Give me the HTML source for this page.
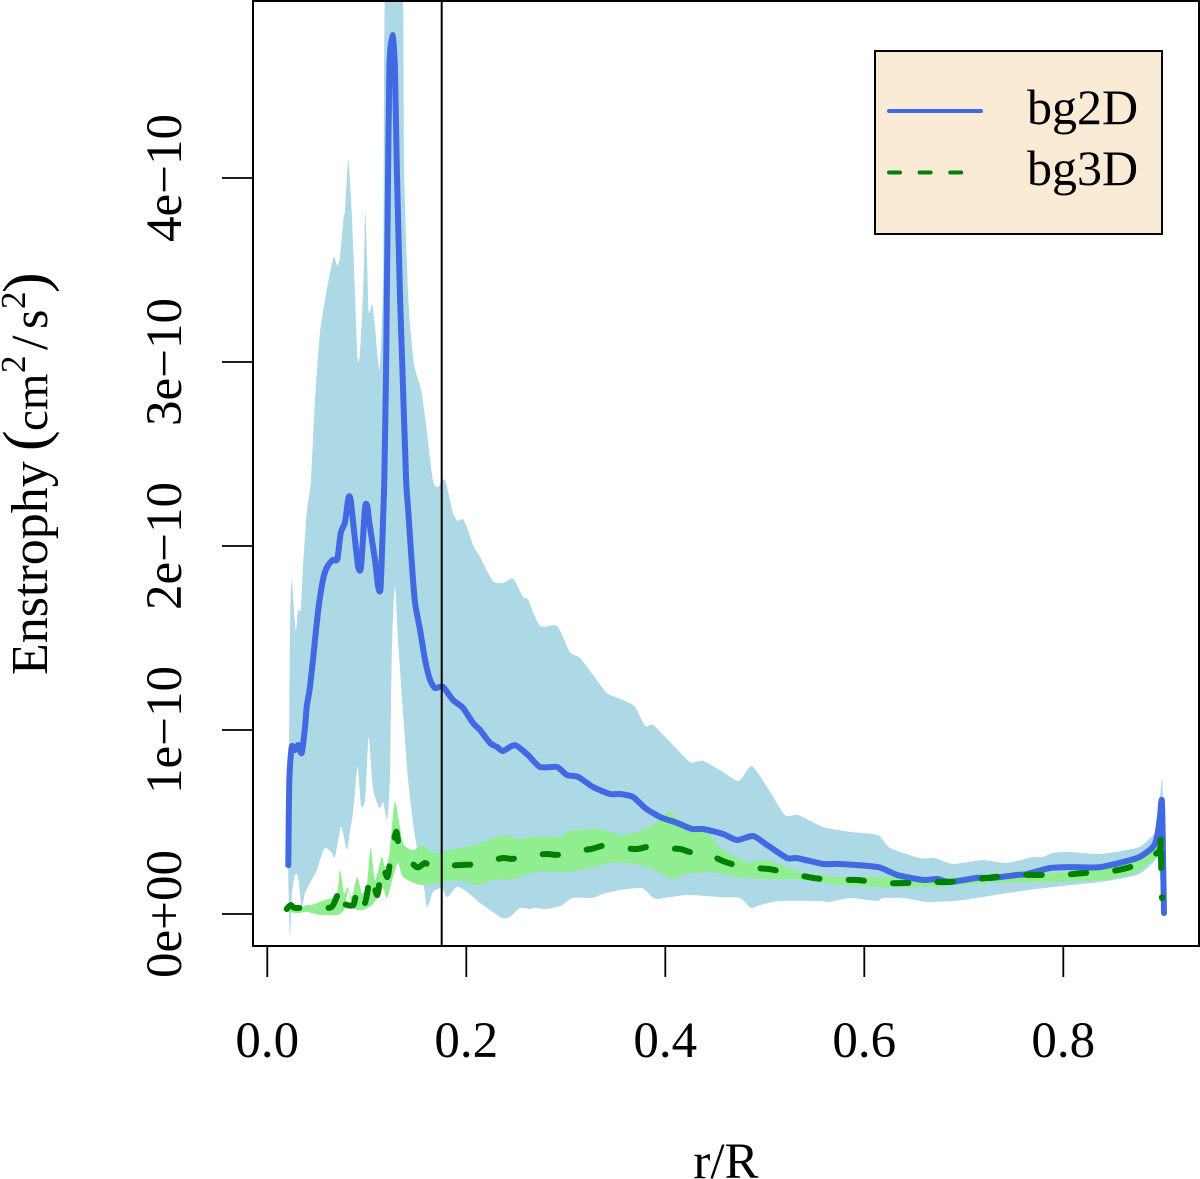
<!DOCTYPE html>
<html>
<head>
<meta charset="utf-8">
<title>Enstrophy profile</title>
<style>
html,body{margin:0;padding:0;background:#fff;}
svg{display:block;}
text{font-family:"Liberation Serif",serif;fill:#000;}
</style>
</head>
<body>
<svg id="chart" xmlns="http://www.w3.org/2000/svg" width="1200" height="1179" viewBox="0 0 1200 1179">
<defs><clipPath id="plot-clip"><rect x="253" y="1" width="946" height="945"/></clipPath></defs>
<g id="marks" clip-path="url(#plot-clip)"></g>
<line x1="441.7" y1="1" x2="441.7" y2="946" stroke="#000" stroke-width="2"/>
<rect x="253" y="1" width="946" height="945" fill="none" stroke="#000" stroke-width="2"/>
<g id="axes"></g>
<g>
<text transform="translate(47,675) rotate(-90)" font-size="52">Enstrophy</text>
<text transform="translate(46,451) rotate(-90)" font-size="62">(</text>
<text transform="translate(47,431) rotate(-90)" font-size="47">cm</text>
<text transform="translate(25,373) rotate(-90)" font-size="35">2</text>
<text transform="translate(47,350) rotate(-90)" font-size="52">/</text>
<text transform="translate(47,329) rotate(-90)" font-size="50">s</text>
<text transform="translate(25,309) rotate(-90)" font-size="35">2</text>
<text transform="translate(46,293) rotate(-90)" font-size="62">)</text>
</g>
<text x="726" y="1178" font-size="51" text-anchor="middle">r/R</text>
<g>
<rect x="875" y="51" width="287" height="183" fill="#FAEBD7" stroke="#000" stroke-width="2"/>
<line x1="889" y1="111" x2="981" y2="111" stroke="#4169E1" stroke-width="4" stroke-linecap="round"/>
<line x1="889" y1="172.5" x2="963" y2="172.5" stroke="#008000" stroke-width="4" stroke-linecap="round" stroke-dasharray="11 19.6"/>
<text x="1027" y="124" font-size="50">bg2D</text>
<text x="1027" y="185" font-size="50">bg3D</text>
</g>
</svg>
<script>
// All y values are in units of 1e-10 cm^2/s^2
const xTickValues = [0, 0.2, 0.4, 0.6, 0.8];
const xTickLabels = ["0.0", "0.2", "0.4", "0.6", "0.8"];
const yTickValues = [0, 1, 2, 3, 4];
const yTickLabels = ["0e+00", "1e\u221210", "2e\u221210", "3e\u221210", "4e\u221210"];

const bg2dR = [.0211,.0221,.0245,.0278,.0312,.0346,.0379,.0396,.0429,.0462,.0497,.0530,.0570,.0613,.0658,.0704,.0738,.0781,.0815,.0838,.0881,.0914,.0942,.0982,.1005,.1026,.1082,.1115,.1139,.1166,.1176,.1194,.1211,.1227,.1258,.1282,.1302,.1335,.1368,.1395,.1418,.1452,.1485,.1536,.1586,.1636,.1686,.1766,.1866,.1967,.2067,.2138,.2239,.2309,.2369,.2490,.2620,.2741,.2912,.3012,.3123,.3274,.3445,.3546,.3676,.3797,.3948,.4119,.4270,.4379,.4580,.4721,.4882,.5023,.5224,.5325,.5586,.5757,.6137,.6330,.6590,.6731,.6862,.7133,.7294,.7535,.7635,.7867,.8097,.8369,.8741,.8901,.8941,.8971,.8991,.9005,.9012];
const bg2dMean = [.266,.728,.908,.891,.918,.875,1.016,1.125,1.234,1.397,1.582,1.723,1.842,1.897,1.924,1.929,2.071,2.130,2.261,2.250,2.033,1.886,1.886,2.207,2.217,2.125,1.924,1.777,1.777,2.179,2.359,2.973,3.880,4.603,4.777,4.603,4.060,3.337,2.794,2.359,2.179,1.908,1.690,1.543,1.380,1.272,1.228,1.234,1.163,1.120,1.038,1.000,.929,.908,.886,.918,.864,.799,.799,.755,.745,.690,.652,.652,.636,.576,.527,.495,.462,.462,.435,.402,.424,.375,.304,.304,.272,.272,.255,.212,.185,.190,.174,.196,.196,.212,.217,.250,.255,.255,.304,.364,.418,.527,.614,.223,.005];

const bg3dR = [.0195,.0235,.0278,.0462,.0647,.0741,.0764,.0865,.0910,.0982,.1040,.1106,.1151,.1207,.1242,.1295,.1335,.1501,.1585,.1665,.1917,.2118,.2359,.2460,.2570,.2801,.2912,.3012,.3254,.3364,.3465,.3706,.3816,.3917,.4148,.4248,.4359,.4580,.4781,.5032,.5233,.5484,.5685,.5937,.6137,.6389,.6610,.6841,.7062,.7313,.7515,.7766,.7977,.8218,.8439,.8670,.8871,.8971,.8979,.8985,.8992];
const bg3dMean = [.027,.049,.033,.038,.038,.147,.060,.049,.147,.060,.212,.103,.266,.201,.310,.446,.348,.255,.277,.255,.266,.272,.304,.299,.315,.326,.321,.337,.353,.370,.364,.353,.364,.359,.353,.337,.342,.288,.255,.245,.223,.196,.185,.185,.168,.168,.174,.174,.185,.201,.212,.212,.212,.223,.228,.255,.310,.348,.446,.201,.087];

const bg2dUpperR = [.0211,.0228,.0245,.0285,.0309,.0336,.0359,.0396,.0439,.0479,.0530,.0580,.0630,.0670,.0704,.0731,.0764,.0781,.0814,.0848,.0881,.0908,.0932,.0965,.0985,.1005,.1019,.1055,.1082,.1115,.1133,.1166,.1190,.1354,.1375,.1418,.1468,.1502,.1546,.1586,.1664,.1717,.1786,.1866,.1917,.1967,.2017,.2067,.2138,.2268,.2369,.2470,.2570,.2620,.2741,.2912,.3042,.3143,.3274,.3414,.3575,.3696,.3797,.3877,.4048,.4249,.4379,.4580,.4721,.4771,.4872,.5023,.5203,.5334,.5586,.5857,.6137,.6258,.6560,.6710,.6891,.7193,.7435,.7696,.7796,.7897,.8068,.8369,.8741,.8851,.8941,.8991,.9002,.9022];
const bg2dUpper = [.185,1.543,1.815,1.543,1.652,1.652,1.886,2.179,2.359,2.794,3.158,3.337,3.484,3.571,3.522,3.571,3.772,3.826,4.098,3.826,3.375,3.016,3.049,3.408,3.815,3.516,3.266,3.315,3.190,2.995,2.984,3.516,5.200,5.200,4.060,3.337,3.011,2.929,2.848,2.701,2.359,2.321,2.359,2.179,2.136,2.147,2.087,2.005,1.940,1.810,1.799,1.821,1.723,1.707,1.565,1.565,1.424,1.391,1.299,1.201,1.163,1.125,1.022,1.027,.935,.826,.832,.772,.723,.739,.804,.690,.538,.538,.473,.446,.429,.359,.304,.304,.272,.293,.277,.310,.310,.332,.337,.326,.359,.402,.467,.739,.582,.038];
const bg2dLowerR = [.0211,.0228,.0248,.0278,.0309,.0346,.0379,.0429,.0499,.0530,.0580,.0647,.0680,.0738,.0761,.0802,.0832,.0861,.0908,.0942,.0982,.1019,.1052,.1082,.1133,.1163,.1203,.1222,.1235,.1253,.1283,.1314,.1365,.1415,.1485,.1566,.1606,.1665,.1756,.1806,.1907,.2007,.2138,.2239,.2359,.2440,.2540,.2641,.2691,.2791,.2942,.3072,.3264,.3374,.3545,.3765,.3846,.3917,.4218,.4550,.4750,.4861,.4951,.5153,.5555,.5655,.5857,.6128,.6188,.6389,.6640,.6992,.7435,.7897,.8369,.8741,.8901,.8951,.9012,.9022];
const bg2dLower = [.185,-.125,.114,.212,.201,.038,.114,.168,.239,.293,.359,.332,.310,.473,.440,.348,.457,.549,.799,.592,.620,.962,.728,.636,.576,.609,.511,.620,.783,1.451,1.783,1.489,1.092,.728,.418,.185,.038,.120,.141,.092,.147,.120,.060,.022,-.022,-.016,.033,.027,.033,.027,.043,.087,.087,.109,.130,.141,.103,.082,.103,.092,.087,.033,.049,.071,.071,.065,.087,.071,.087,.087,.065,.076,.114,.147,.174,.212,.277,.293,.005,.038];

const bg3dUpperR = [.0195,.0278,.0329,.0396,.0446,.0580,.0697,.0731,.0771,.0808,.0848,.0905,.0949,.0999,.1039,.1082,.1150,.1183,.1226,.1283,.1365,.1465,.1566,.1665,.1836,.2067,.2138,.2389,.2520,.2761,.2942,.3042,.3344,.3565,.3776,.3917,.4028,.4148,.4420,.4550,.4821,.5023,.5354,.5757,.6228,.6731,.7233,.7565,.7897,.8399,.8701,.8901,.8971];
const bg3dUpper = [.049,.049,.033,.049,.049,.076,.103,.239,.114,.147,.092,.201,.114,.147,.359,.185,.310,.255,.321,.609,.386,.348,.375,.332,.348,.375,.386,.429,.408,.424,.418,.451,.462,.429,.457,.500,.554,.511,.446,.359,.283,.293,.228,.201,.201,.196,.207,.234,.223,.250,.304,.364,.457];
const bg3dLowerR = [.0198,.0309,.0399,.0530,.0711,.0781,.0811,.0861,.0962,.1052,.1113,.1163,.1203,.1263,.1314,.1365,.1536,.1756,.1937,.2108,.2309,.2440,.2711,.3042,.3274,.3545,.3846,.4068,.4178,.4420,.4751,.4982,.5324,.5757,.6128,.6660,.7233,.7897,.8399,.8741,.8941,.8981];
const bg3dLower = [.011,.005,.011,-.005,-.005,.033,.130,.033,.022,.049,.092,.141,.087,.201,.277,.201,.158,.174,.185,.158,.190,.185,.228,.228,.255,.283,.250,.190,.212,.228,.201,.190,.190,.158,.147,.147,.168,.174,.185,.228,.304,.223];

const SVG_NS = "http://www.w3.org/2000/svg";
function xScale(r) { return 267.3 + 995 * r; }
function yScale(v) { return 914 - 184 * v; }
function svgEl(tag, attrs) {
  const el = document.createElementNS(SVG_NS, tag);
  for (const k in attrs) el.setAttribute(k, attrs[k]);
  return el;
}
function toPixels(rs, vs) {
  return rs.map((r, i) => [xScale(r), yScale(vs[i])]);
}
// Gently rounded curve through the points (small Catmull-Rom handles)
function curveThrough(pts, start) {
  const k = 0.11;
  let d = (start ? "M" : "L") + pts[0][0].toFixed(1) + " " + pts[0][1].toFixed(1);
  for (let i = 0; i < pts.length - 1; i++) {
    const p0 = pts[Math.max(i - 1, 0)], p1 = pts[i], p2 = pts[i + 1], p3 = pts[Math.min(i + 2, pts.length - 1)];
    const c1x = p1[0] + (p2[0] - p0[0]) * k, c1y = p1[1] + (p2[1] - p0[1]) * k;
    const c2x = p2[0] - (p3[0] - p1[0]) * k, c2y = p2[1] - (p3[1] - p1[1]) * k;
    d += "C" + c1x.toFixed(1) + " " + c1y.toFixed(1) + " " + c2x.toFixed(1) + " " + c2y.toFixed(1) + " " + p2[0].toFixed(1) + " " + p2[1].toFixed(1);
  }
  return d;
}
function bandPath(upR, up, loR, lo) {
  return curveThrough(toPixels(upR, up), true) + curveThrough(toPixels(loR, lo).reverse(), false) + "Z";
}
const marks = document.getElementById("marks");
const axes = document.getElementById("axes");

const band2d = svgEl("path", { d: bandPath(bg2dUpperR, bg2dUpper, bg2dLowerR, bg2dLower), fill: "#ADD8E6" });


marks.appendChild(band2d);

const band3d = svgEl("path", { d: bandPath(bg3dUpperR, bg3dUpper, bg3dLowerR, bg3dLower), fill: "#90EE90" });


marks.appendChild(band3d);

const line2d = svgEl("path", {
  d: curveThrough(toPixels(bg2dR, bg2dMean), true),
  fill: "none", stroke: "#4169E1", "stroke-width": 6,
  "stroke-linejoin": "round", "stroke-linecap": "round"
});


marks.appendChild(line2d);

const line3d = svgEl("path", {
  d: curveThrough(toPixels(bg3dR, bg3dMean), true),
  fill: "none", stroke: "#008000", "stroke-width": 6,
  "stroke-linejoin": "round", "stroke-linecap": "round",
  "stroke-dasharray": "15.5 29.1"
});


marks.appendChild(line3d);

xTickValues.forEach((value, i) => {
  const tick = svgEl("line", {
    x1: xScale(value), x2: xScale(value), y1: 946, y2: 977,
    stroke: "#000", "stroke-width": 1.8
  });
  
  
  axes.appendChild(tick);
  const label = svgEl("text", {
    x: xScale(value), y: 1057, "font-size": 51, "text-anchor": "middle"
  });
  
  
  label.textContent = xTickLabels[i];
  axes.appendChild(label);
});

yTickValues.forEach((value, i) => {
  const tick = svgEl("line", {
    x1: 222, x2: 253, y1: yScale(value), y2: yScale(value),
    stroke: "#000", "stroke-width": 1.8
  });
  
  
  axes.appendChild(tick);
  const label = svgEl("text", {
    transform: "translate(181," + yScale(value) + ") rotate(-90)",
    "font-size": 51, "text-anchor": "middle"
  });
  
  
  label.textContent = yTickLabels[i];
  axes.appendChild(label);
});
</script>
</body>
</html>
